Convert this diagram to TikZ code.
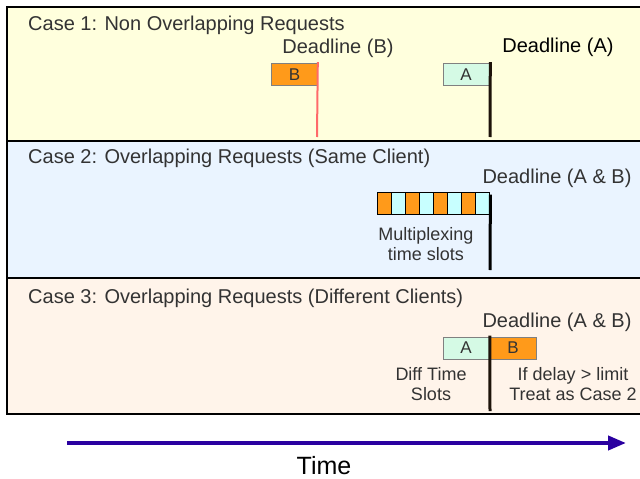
\documentclass[tikz,border=0pt]{standalone}
\usepackage{fontspec}
\setmainfont{Liberation Sans}
\usetikzlibrary{arrows.meta}

\definecolor{fillone}{HTML}{FFFFDD}
\definecolor{filltwo}{HTML}{EAF4FF}
\definecolor{fillthree}{HTML}{FFF4EA}
\definecolor{flagorange}{HTML}{FF9A1A}
\definecolor{flagmint}{HTML}{D5FAE5}
\definecolor{slotcyan}{HTML}{C8FFFF}
\definecolor{polered}{HTML}{FF6A6A}
\definecolor{timeblue}{HTML}{2A00A0}
\definecolor{txtgray}{HTML}{333333}

\begin{document}
\begin{tikzpicture}[x=1pt, y=-1pt,
  casebox/.style={draw=black, line width=2.5pt},
  title/.style={anchor=west, inner sep=0, text=txtgray, font=\fontsize{20}{24}\selectfont},
  deadline/.style={inner sep=0, text=txtgray, font=\fontsize{20}{24}\selectfont},
  note/.style={inner sep=0, text=txtgray, align=center, font=\fontsize{18}{20}\selectfont},
  flag/.style={draw=gray, line width=0.6pt, minimum width=46pt, minimum height=22pt, inner sep=0,
    text=txtgray, font=\fontsize{17}{20}\selectfont},
  pole/.style={line width=3pt, draw=black!85!brown},
  slot/.style={draw=black, line width=0.8pt, minimum width=14pt, minimum height=22pt, inner sep=0}]
\useasboundingbox (0,0) rectangle (640,479);

% the three cases
\draw[casebox, fill=fillone] (7,7) rectangle (660,141);
\draw[casebox, fill=filltwo] (7,141) rectangle (660,278);
\draw[casebox, fill=fillthree] (7,278) rectangle (660,414);

% case 1
\node[title] (caseone) at (28,25) {Case 1: Non Overlapping Requests};
\node[deadline] (dlB) at (338,48) {Deadline (B)};
\node[deadline, text=black] (dlA) at (558,47) {Deadline (A)};
\node[flag, fill=flagorange] (flagB) at (294.5,74.5) {B};
\node[flag, fill=flagmint] (flagA) at (466,74.5) {A};
\coordinate (footB) at (317,137);
\coordinate (footA) at (490,137);
\draw[line width=2pt, polered] (flagB.north east) ++(0,-1) -- (footB);
\draw[pole] (flagA.north east) ++(1,-1) -- (footA);

% case 2
\node[title] (casetwo) at (28,158) {Case 2: Overlapping Requests (Same Client)};
\node[deadline] (dlAB) at (557,178) {Deadline (A \& B)};
\foreach \i in {0,...,7}{
  \pgfmathsetmacro{\slotx}{384+14*\i}
  \ifodd\i
    \node[slot, fill=slotcyan] (slot\i) at (\slotx,203) {};
  \else
    \node[slot, fill=flagorange] (slot\i) at (\slotx,203) {};
  \fi
}
\coordinate (foottwo) at (490,270);
\draw[pole, draw=black] (slot7.north east) ++(1,3) -- (foottwo);
\node[note] (multi) at (426,244) {Multiplexing\\time slots};

% case 3
\node[title] (casethree) at (28,298) {Case 3: Overlapping Requests (Different Clients)};
\node[deadline] (dlABthree) at (557,322) {Deadline (A \& B)};
\node[flag, fill=flagmint] (flagAthree) at (466,348) {A};
\node[flag, fill=flagorange] (flagBthree) at (513,348) {B};
\coordinate (footthree) at (490,411);
\draw[pole] (flagAthree.north east) ++(0.5,-1) -- (footthree);
\node[note] (diff) at (431,384) {Diff Time\\Slots};
\node[note] (delay) at (573,384) {If delay > limit\\Treat as Case 2};

% time axis
\coordinate (tstart) at (67,443);
\coordinate (tend) at (626,443);
\draw[timeblue, line width=4pt, -{Triangle[length=18pt, width=14pt]}] (tstart) -- (tend);
\node[inner sep=0, font=\fontsize{25}{30}\selectfont] (time) at (324,466) {Time};
\end{tikzpicture}
\end{document}
